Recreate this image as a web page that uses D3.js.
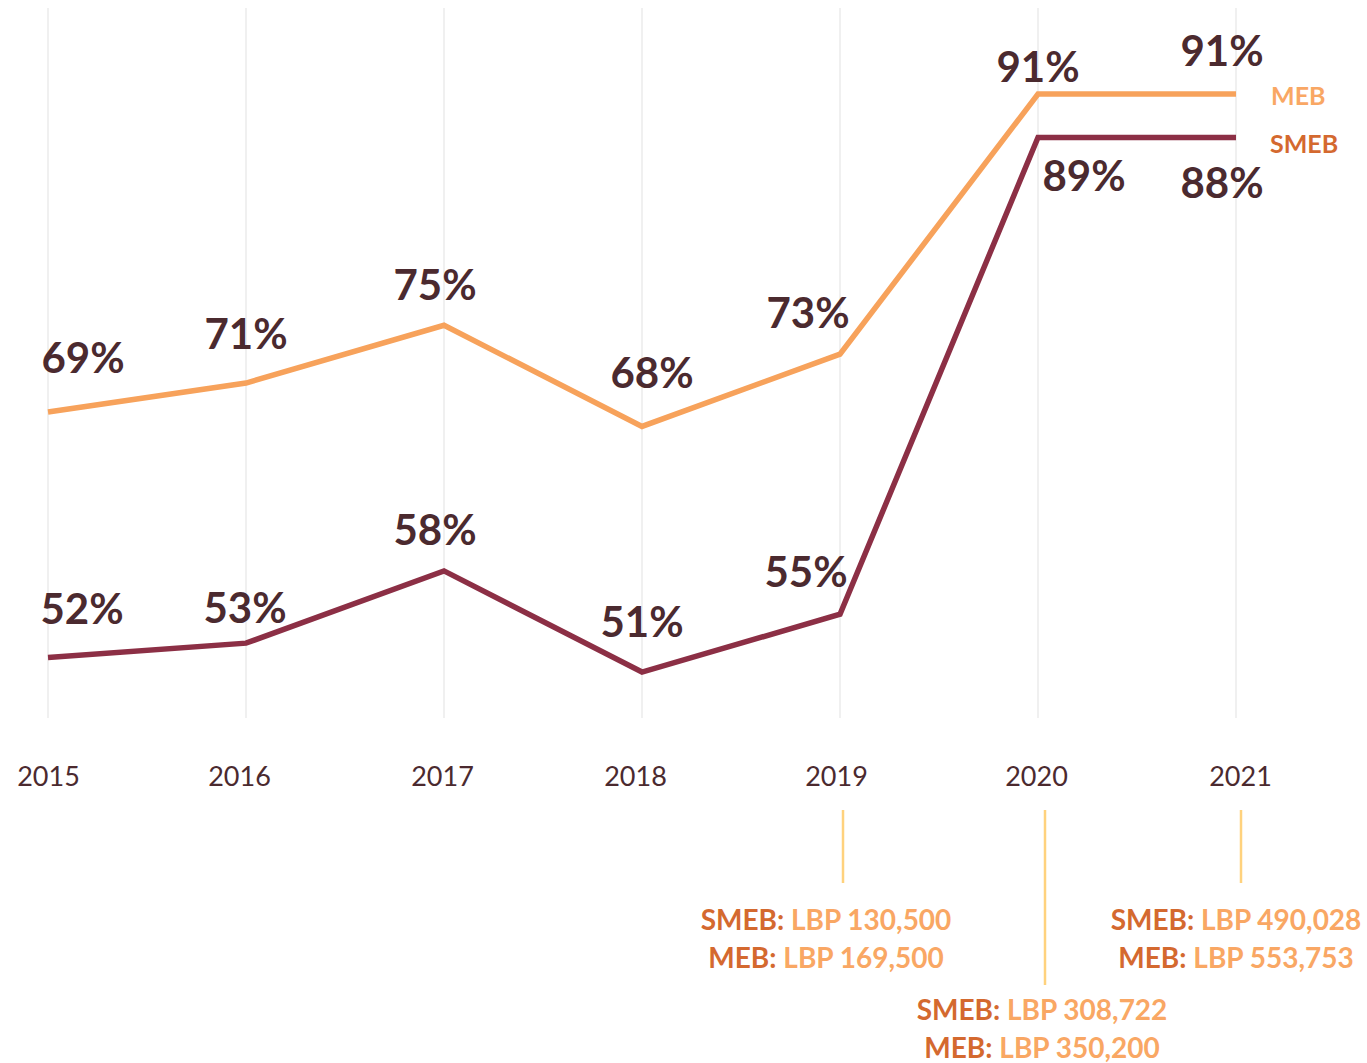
<!DOCTYPE html>
<html><head><meta charset="utf-8">
<script src="https://cdn.jsdelivr.net/npm/d3@7"></script>
<style>html,body{margin:0;padding:0;background:#fff;}svg{display:block;font-family:Lato,"Open Sans",sans-serif;}</style>
</head><body>
<svg id="c" width="1367" height="1063"></svg>
<script>
const years = ["2015","2016","2017","2018","2019","2020","2021"];
const mebValues = [69, 71, 75, 68, 73, 91, 91];
const smebValues = [52, 53, 58, 51, 55, 88, 88];
const mebLabels = ["69%","71%","75%","68%","73%","91%","91%"];
const smebLabels = ["52%","53%","58%","51%","55%","89%","88%"];
const seriesNames = ["MEB","SMEB"];
const annoYears = ["2019","2020","2021"];
const annoSmeb = ["LBP 130,500","LBP 308,722","LBP 490,028"];
const annoMeb = ["LBP 169,500","LBP 350,200","LBP 553,753"];

// label placement (offsets from point, px)
const mebOff = [[35,-55],[0,-50],[-9,-41],[10,-54],[-32,-42],[0,-28],[-14,-44]];
const smebOff = [[34,-50],[-1,-36],[-9,-42],[0,-51],[-34,-43],[46,38],[-14,45]];
const yearDx = [0,-7,-2,-7,-4,-2,4];

const C = {meb:"#f7a25b", smeb:"#8c2f45", label:"#4b2a2f", dark:"#d4692f", light:"#f9a764", grid:"#e8e8e8", tick:"#ffd27d"};

const svg = d3.select("#c");
const x = d3.scalePoint().domain(years).range([48, 1236]);
const y = d3.scaleLinear().domain([0, 100]).range([1409, -36]);

// gridlines
svg.append("g").selectAll("line").data(years).join("line")
  .attr("x1", d => x(d)).attr("x2", d => x(d)).attr("y1", 8).attr("y2", 718)
  .attr("stroke", C.grid).attr("stroke-width", 1.3);

// axis labels
const ax = svg.append("g").attr("transform","translate(0,777)")
  .call(d3.axisBottom(x).tickSize(0).tickPadding(0));
ax.select(".domain").remove();
ax.selectAll("text").attr("font-size", 27).attr("fill", C.label)
  .attr("font-family","Lato").attr("dy","0.35em").attr("y",0)
  .attr("x", (d,i) => yearDx[i]);

const line = d3.line().x((d,i) => x(years[i])).y(d => y(d));
svg.append("path").datum(mebValues).attr("d", line).attr("fill","none")
  .attr("stroke", C.meb).attr("stroke-width", 5.5).attr("stroke-linejoin","miter");
svg.append("path").datum(smebValues).attr("d", line).attr("fill","none")
  .attr("stroke", C.smeb).attr("stroke-width", 5.5).attr("stroke-linejoin","miter");

function labels(vals, labs, off) {
  svg.append("g").selectAll("text").data(vals).join("text")
    .attr("x", (d,i) => x(years[i]) + off[i][0])
    .attr("y", (d,i) => y(d) + off[i][1])
    .attr("text-anchor","middle").attr("dominant-baseline","central")
    .attr("font-size", 42).attr("font-weight", 700).attr("fill", C.label)
    .text((d,i) => labs[i]);
}
labels(mebValues, mebLabels, mebOff);
labels(smebValues, smebLabels, smebOff);

// legend at line ends
svg.append("text").attr("x", x("2021") + 35).attr("y", y(mebValues[6]) + 1)
  .attr("dominant-baseline","central").attr("font-size", 25).attr("font-weight",700)
  .attr("fill", C.light).text(seriesNames[0]);
svg.append("text").attr("x", x("2021") + 34).attr("y", y(smebValues[6]) + 6)
  .attr("dominant-baseline","central").attr("font-size", 25).attr("font-weight",700)
  .attr("fill", C.dark).text(seriesNames[1]);

// annotations
const annoLen = [73, 175, 73];
const annoTextY = [919, 1009, 919];
const annoDx = [3, 7, 5];
const annoTextDx = [-14, 4, 0];
annoYears.forEach((yr, i) => {
  const cx = x(yr) + annoDx[i];
  svg.append("line").attr("x1", cx).attr("x2", cx).attr("y1", 810).attr("y2", 810 + annoLen[i])
    .attr("stroke", C.tick).attr("stroke-width", 2.5);
  const tx = x(yr) + annoTextDx[i];
  [["SMEB", annoSmeb[i], 0], ["MEB", annoMeb[i], 38]].forEach(([k, v, dy]) => {
    const t = svg.append("text").attr("x", tx).attr("y", annoTextY[i] + dy)
      .attr("text-anchor","middle").attr("dominant-baseline","central")
      .attr("font-size", 28).attr("font-weight",700);
    t.append("tspan").attr("fill", C.dark).text(k + ":");
    t.append("tspan").attr("fill", C.light).text(" " + v);
  });
});
</script>
</body></html>
